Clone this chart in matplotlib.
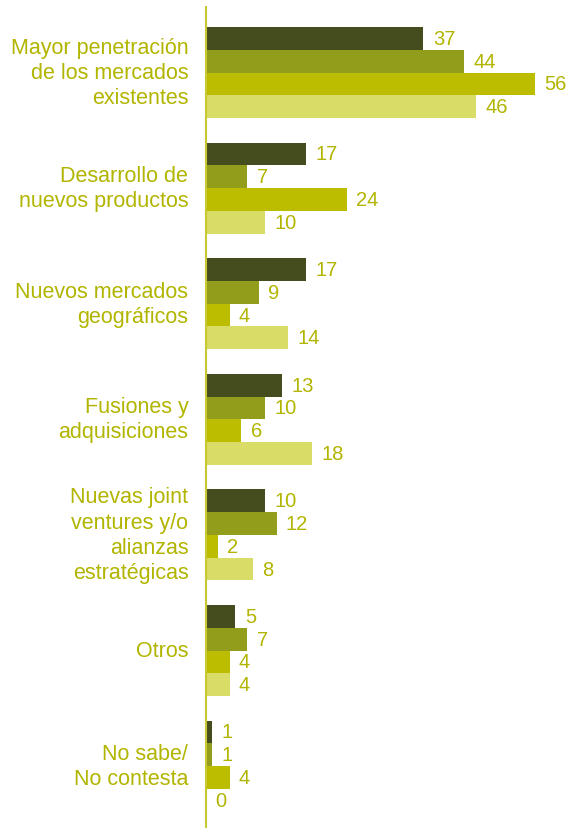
import matplotlib.pyplot as plt
import numpy as np

plt.rcParams['font.family'] = ['Liberation Sans', 'DejaVu Sans']

categorias = ['Mayor penetración\nde los mercados\nexistentes',
              'Desarrollo de\nnuevos productos',
              'Nuevos mercados\ngeográficos',
              'Fusiones y\nadquisiciones',
              'Nuevas joint\nventures y/o\nalianzas\nestratégicas',
              'Otros',
              'No sabe/\nNo contesta']
serie1 = [37, 17, 17, 13, 10, 5, 1]
serie2 = [44, 7, 9, 10, 12, 7, 1]
serie3 = [56, 24, 4, 6, 2, 4, 4]
serie4 = [46, 10, 14, 18, 8, 4, 0]

colores = ['#454d1e', '#939d1c', '#bcbc00', '#d9dc66']
texto = '#b2b500'

fig = plt.figure(figsize=(5.66, 8.29), dpi=100)
ax = fig.add_axes([206/566, 0, 360/566, 821/829])

paso = 5.08
grupos = np.arange(len(categorias)) * paso
for j, (serie, color) in enumerate(zip([serie1, serie2, serie3, serie4], colores)):
    y = grupos + j + 0.5
    ax.barh(y, serie, height=1.0, color=color)
    for yy, v in zip(y, serie):
        ax.text(v + 1.6, yy, str(v), va='center', ha='left', fontsize=14.5, color=texto)

for g, cat in zip(grupos, categorias):
    ax.text(-3.0, g + 2.0, cat, ha='right', va='center', fontsize=15.5,
            color=texto, multialignment='right', linespacing=1.27)

ax.set_xlim(0, 360/5.875)
ax.set_ylim(35.2, -0.88)
for s in ['top', 'right', 'bottom']:
    ax.spines[s].set_visible(False)
ax.spines['left'].set_color('#c8c832')
ax.spines['left'].set_linewidth(1.5)
ax.set_xticks([])
ax.set_yticks([])

fig.savefig('out.png', dpi=100)
